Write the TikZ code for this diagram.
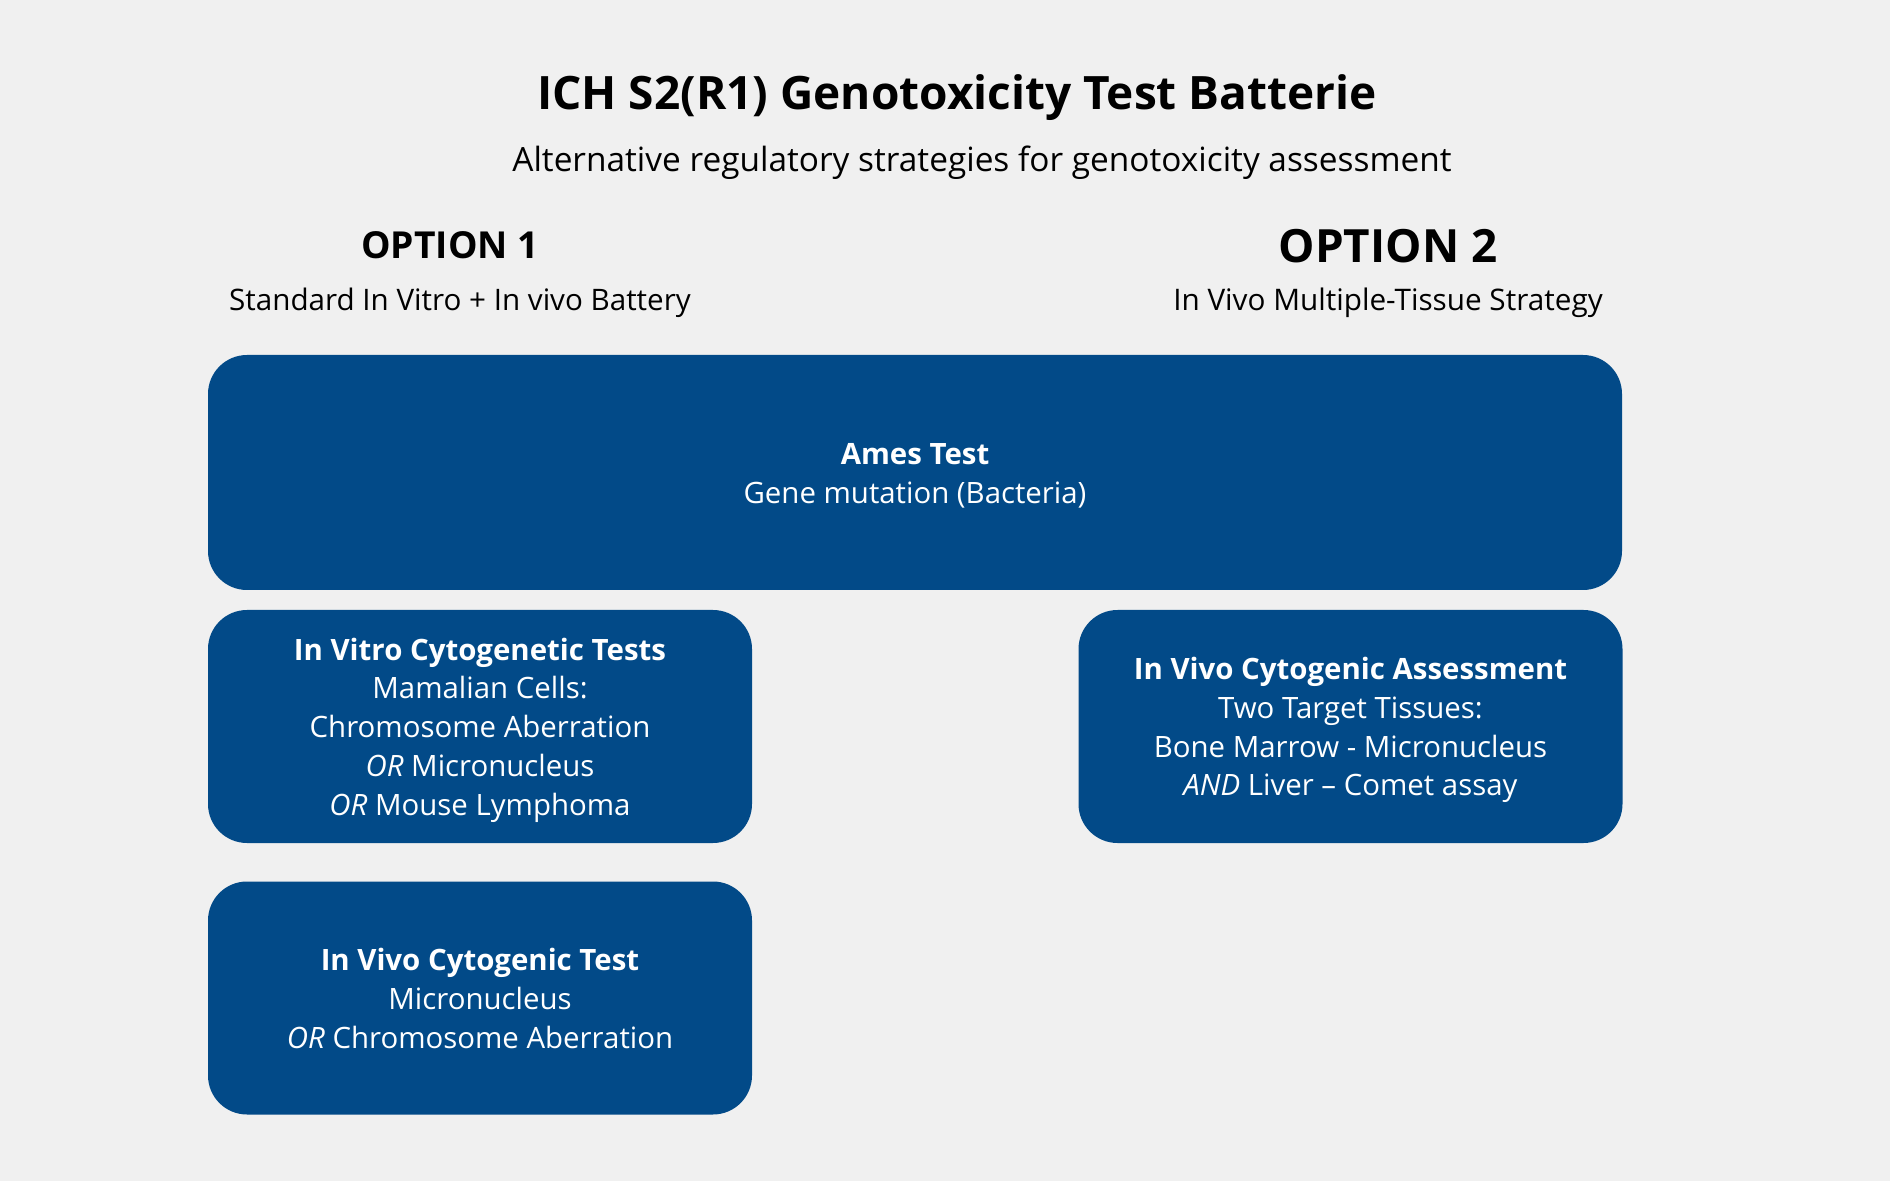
\documentclass[tikz,border=0pt]{standalone}
\usepackage{fontspec}
\setmainfont{Open Sans}
\usepackage{tikz}
\definecolor{boxblue}{HTML}{024A88}
\definecolor{pagegray}{HTML}{F0F0F0}
\newcommand{\topstrut}{\rule{0pt}{15.4pt}}
\newcommand{\botstrut}{\rule[-4.2pt]{0pt}{4.2pt}}

\begin{document}
\begin{tikzpicture}[x=0.5pt,y=0.5pt,
  testbox/.style={fill=boxblue,draw=none,rounded corners=19.5pt,text=white,align=center,
    minimum width=272pt,minimum height=116.5pt,inner sep=0pt,
    font={\fontsize{14.7}{19.4}\selectfont}},
  headtext/.style={anchor=base,inner sep=0pt,text=black}]
\fill[pagegray] (0,0) rectangle (1890,-1181);
\useasboundingbox (0,0) rectangle (1890,-1181);
% heading
\node[headtext,font={\fontsize{23}{28}\selectfont\bfseries}] (title) at (957,-110) {ICH S2(R1) Genotoxicity Test Batterie};
\node[headtext,font={\fontsize{16.7}{20}\selectfont}] (subtitle) at (982,-172) {Alternative regulatory strategies for genotoxicity assessment};
\node[headtext,font={\fontsize{18.6}{22}\selectfont\bfseries}] (optone) at (450,-259) {OPTION 1};
\node[headtext,font={\fontsize{14.8}{19}\selectfont}] (optonesub) at (460,-311) {Standard In Vitro + In vivo Battery};
\node[headtext,font={\fontsize{22.9}{28}\selectfont\bfseries}] (opttwo) at (1388,-263) {OPTION 2};
\node[headtext,font={\fontsize{14.85}{19}\selectfont}] (opttwosub) at (1388,-311) {In Vivo Multiple-Tissue Strategy};
% boxes
\node[testbox,minimum width=707pt,minimum height=117.5pt] (ames) at (915,-472.5) {\topstrut\textbf{Ames Test}\\Gene mutation (Bacteria)\botstrut};
\node[testbox] (invitro) at (480,-726.5) {\topstrut\textbf{In Vitro Cytogenetic Tests}\\Mamalian Cells:\\Chromosome Aberration\\\textit{OR} Micronucleus\\\textit{OR} Mouse Lymphoma\botstrut};
\node[testbox] (invivotest) at (480,-998) {\topstrut\textbf{In Vivo Cytogenic Test}\\Micronucleus\\\textit{OR} Chromosome Aberration\botstrut};
\node[testbox] (invivoassess) at (1350.5,-726.5) {\topstrut\textbf{In Vivo Cytogenic Assessment}\\Two Target Tissues:\\Bone Marrow - Micronucleus\\\textit{AND} Liver – Comet assay\botstrut};
\end{tikzpicture}
\end{document}
